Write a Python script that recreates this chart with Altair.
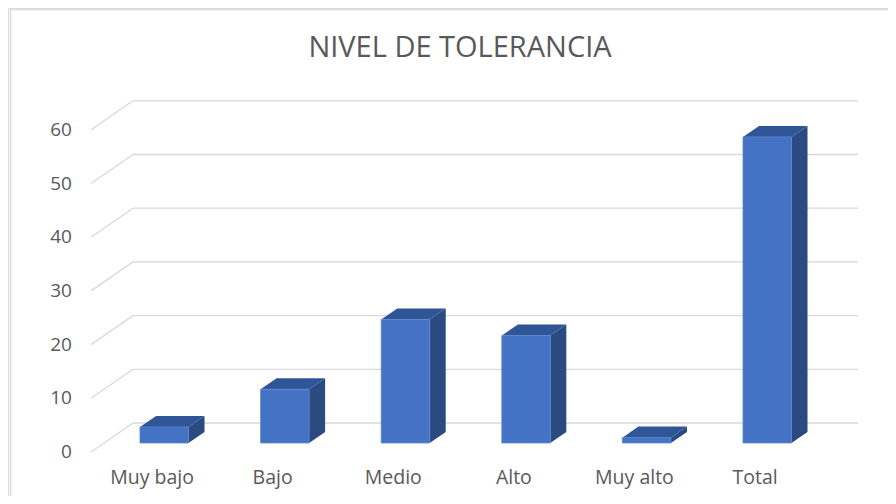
import altair as alt
import pandas as pd

# ---- data ----
categories = ["Muy bajo", "Bajo", "Medio", "Alto", "Muy alto", "Total"]
values = [3, 10, 23, 20, 1, 57]
y_ticks = [0, 10, 20, 30, 40, 50, 60]
title_text = "NIVEL DE TOLERANCIA"

# ---- style / layout constants (in scale units) ----
FRONT = "#4472C4"
TOP = "#2F5597"
SIDE = "#2B4A80"
GRID = "#D9D9D9"
TEXT = "#595959"
FONT = "Open Sans"

W = 0.402     # bar front width (category steps)
DX = 0.133    # depth, horizontal
DY = 2.05     # depth, vertical (value units)
WALL_DY = 3.72
FLOOR_DY = -1.68
WALL_X0, WALL_X1 = -0.058, 5.954
FLOOR_X0 = -0.406
LABEL_X = -0.564
CAT_LABEL_DX = 0.10
CAT_LABEL_Y = -6.52

XDOM = [-1.0945, 6.2023]
YDOM = [-9.87, 81.0]
xs = alt.Scale(domain=XDOM, nice=False, zero=False)
ys = alt.Scale(domain=YDOM, nice=False, zero=False)

# ---- derived tables ----
front_df = pd.DataFrame({
    "cat": categories,
    "x0": [i for i in range(len(categories))],
    "x1": [i + W for i in range(len(categories))],
    "y0": [0] * len(values),
    "y1": values,
})

side_rows, top_rows = [], []
for i, v in enumerate(values):
    side_rows += [
        {"bar": i, "x": i + W, "y": 0, "y2": v},
        {"bar": i, "x": i + W + DX, "y": DY, "y2": v + DY},
    ]
    top_rows += [
        {"bar": i, "x": i, "y": v, "y2": v},
        {"bar": i, "x": i + DX, "y": v, "y2": v + DY},
        {"bar": i, "x": i + W, "y": v, "y2": v + DY},
        {"bar": i, "x": i + W + DX, "y": v + DY, "y2": v + DY},
    ]
side_df = pd.DataFrame(side_rows)
top_df = pd.DataFrame(top_rows)

grid_df = pd.DataFrame({
    "t": y_ticks,
    "wy": [t + WALL_DY for t in y_ticks],
    "fy": [t + FLOOR_DY for t in y_ticks],
    "wx0": [WALL_X0] * len(y_ticks),
    "wx1": [WALL_X1] * len(y_ticks),
    "fx": [FLOOR_X0] * len(y_ticks),
    "lx": [LABEL_X] * len(y_ticks),
    "label": [str(t) for t in y_ticks],
})

cat_df = pd.DataFrame({
    "cat": categories,
    "x": [i + CAT_LABEL_DX for i in range(len(categories))],
    "y": [CAT_LABEL_Y] * len(categories),
})

title_df = pd.DataFrame({"title": [title_text]})
frame_df = pd.DataFrame({"a": [0]})

# ---- layers ----
frame_left = alt.Chart(frame_df).mark_rule(color=GRID, strokeWidth=1.5).encode(
    x=alt.value(2.5), y=alt.value(1.5), y2=alt.value(488))
frame_top = alt.Chart(frame_df).mark_rule(color=GRID, strokeWidth=1.5).encode(
    x=alt.value(2.5), x2=alt.value(880), y=alt.value(1.5))

wall = alt.Chart(grid_df).mark_rule(color=GRID, strokeWidth=1.3).encode(
    x=alt.X("wx0:Q", scale=xs, axis=None), x2="wx1:Q",
    y=alt.Y("wy:Q", scale=ys, axis=None))
diag = alt.Chart(grid_df).mark_rule(color=GRID, strokeWidth=1.3).encode(
    x=alt.X("fx:Q", scale=xs, axis=None), x2="wx0:Q",
    y=alt.Y("fy:Q", scale=ys, axis=None), y2="wy:Q")
ylab = alt.Chart(grid_df).mark_text(
    align="right", baseline="middle", font=FONT, fontSize=19, color=TEXT
).encode(
    x=alt.X("lx:Q", scale=xs, axis=None),
    y=alt.Y("fy:Q", scale=ys, axis=None),
    text="label:N")

side = alt.Chart(side_df).mark_area(orient="vertical", color=SIDE).encode(
    x=alt.X("x:Q", scale=xs, axis=None),
    y=alt.Y("y:Q", scale=ys, axis=None), y2="y2:Q",
    detail="bar:N")
top = alt.Chart(top_df).mark_area(orient="vertical", color=TOP).encode(
    x=alt.X("x:Q", scale=xs, axis=None),
    y=alt.Y("y:Q", scale=ys, axis=None), y2="y2:Q",
    detail="bar:N")
front = alt.Chart(front_df).mark_rect(color=FRONT, stroke="#5B86D0", strokeWidth=0.8).encode(
    x=alt.X("x0:Q", scale=xs, axis=None), x2="x1:Q",
    y=alt.Y("y0:Q", scale=ys, axis=None), y2="y1:Q")

catlab = alt.Chart(cat_df).mark_text(
    align="center", baseline="middle", font=FONT, fontSize=19.5, color=TEXT
).encode(
    x=alt.X("x:Q", scale=xs, axis=None),
    y=alt.Y("y:Q", scale=ys, axis=None),
    text="cat:N")

title = alt.Chart(title_df).mark_text(
    align="center", baseline="alphabetic", font=FONT, fontSize=29, color=TEXT
).encode(x=alt.value(452), y=alt.value(49), text="title:N")

chart = alt.layer(
    frame_left, frame_top, wall, diag, ylab, side, top, front, catlab, title
).properties(
    width=880, height=488,
    autosize=alt.AutoSizeParams(type="none"),
    padding=0,
).configure_view(stroke=None).configure(background="white")

chart.save("out.html", embed_options={"renderer": "svg", "actions": False})
